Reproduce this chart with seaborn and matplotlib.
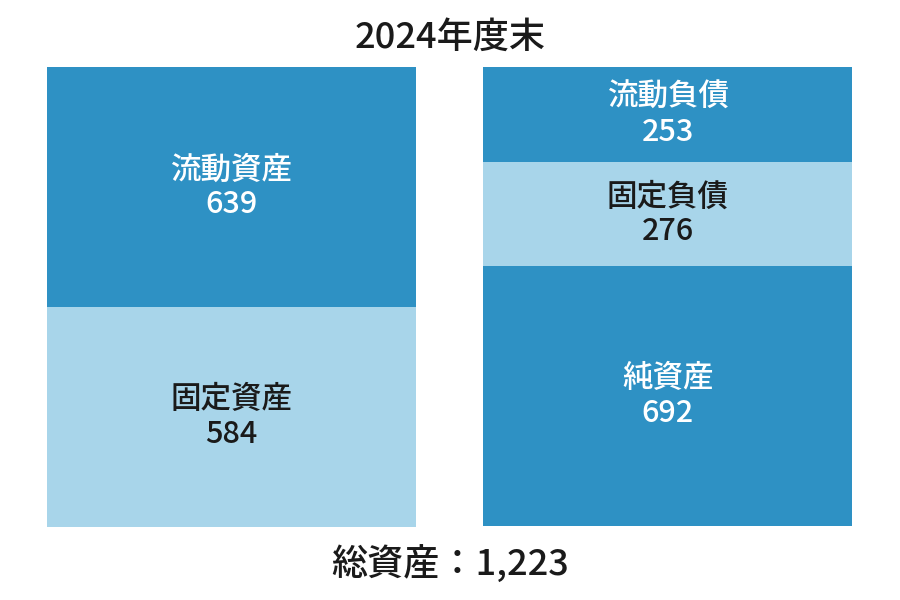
import matplotlib
matplotlib.use("Agg")
import matplotlib.pyplot as plt
import seaborn as sns

# data
left_labels = ["流動資産", "固定資産"]
left_values = [639, 584]
right_labels = ["流動負債", "固定負債", "純資産"]
right_values = [253, 276, 692]
total = 1223

DARK = "#2E91C4"
LIGHT = "#A8D5EA"
left_colors = [DARK, LIGHT]
right_colors = [DARK, LIGHT, DARK]

sns.set_theme(style="white")
plt.rcParams["font.family"] = ["Noto Sans CJK JP", "DejaVu Sans"]

fig = plt.figure(figsize=(9, 6), dpi=100)
ax = fig.add_axes([0.052, 0.122, 0.895, 0.766])
w = 0.8466

def stack(x, labels, values, colors):
    bottom = 0
    for lab, v, c in zip(labels, values, colors):
        ax.bar(x, v, bottom=bottom, width=w, color=c, edgecolor="none")
        tc = "white" if c == DARK else "#1a1a1a"
        ax.text(x, bottom + v / 2, f"{lab}\n{v}", ha="center", va="center",
                color=tc, fontsize=22, linespacing=1.15, fontweight="medium")
        bottom += v

stack(0, left_labels, left_values, left_colors)
stack(1, right_labels, right_values, right_colors)

ax.set_xlim(-w / 2, 1 + w / 2)
ax.set_ylim(total, 0)
ax.axis("off")

fig.text(0.5, 0.937, "2024年度末", ha="center", va="center", fontsize=26,
         fontweight="medium", color="#1a1a1a")
fig.text(0.5, 0.058, "総資産：1,223", ha="center", va="center", fontsize=26,
         fontweight="medium", color="#1a1a1a")

fig.savefig("out.png", dpi=100, facecolor="white")
